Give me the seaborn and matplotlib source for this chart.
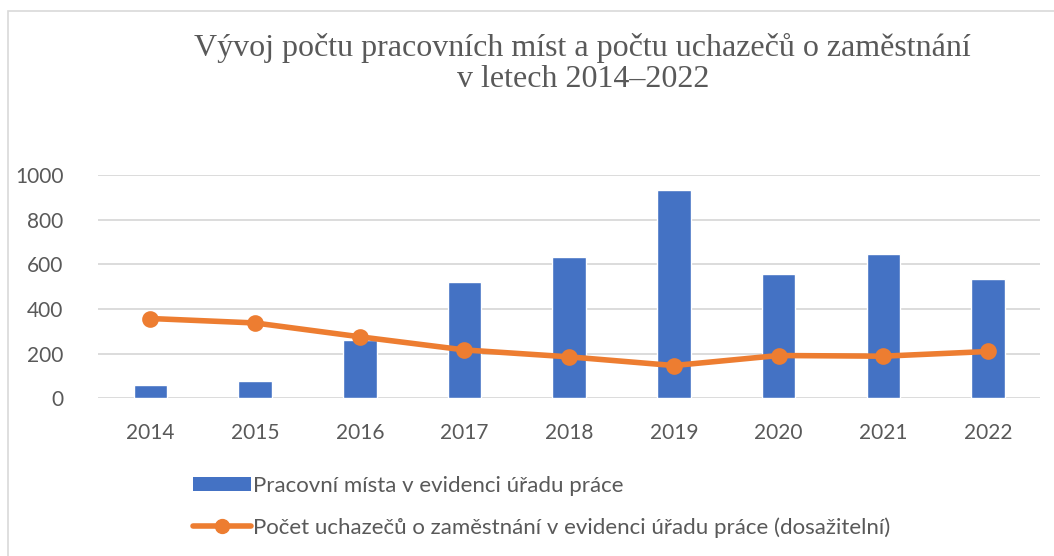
import seaborn as sns
import matplotlib.pyplot as plt
import pandas as pd
from matplotlib.patches import Patch, Rectangle
from matplotlib.lines import Line2D

roky = ['2014', '2015', '2016', '2017', '2018', '2019', '2020', '2021', '2022']
pracovni_mista = [57, 75, 260, 521, 631, 933, 555, 645, 536]
uchazeci = [357, 337, 275, 216, 185, 146, 191, 188, 209]

popis_mista = 'Pracovní místa v evidenci úřadu práce'
popis_uchazeci = 'Počet uchazečů o zaměstnání v evidenci úřadu práce (dosažitelní)'
nadpis = 'Vývoj počtu pracovních míst a počtu uchazečů o zaměstnání\nv letech 2014–2022'

modra = '#4472C4'
oranzova = '#ED7D31'
seda = '#595959'

df = pd.DataFrame({'rok': roky, 'mista': pracovni_mista, 'uchazeci': uchazeci})

sns.set_theme(style="white")
plt.rcParams['font.family'] = ['Lato', 'DejaVu Sans']

fig = plt.figure(figsize=(10.54, 5.56), dpi=100)
ax = fig.add_axes([0.093, 0.284, 0.894, 0.401])

sns.barplot(data=df, x='rok', y='mista', color=modra, width=0.32,
            saturation=1, ax=ax)
sns.pointplot(data=df, x='rok', y='uchazeci', color=oranzova, ax=ax,
              markers='o', markersize=9, linewidth=4)

ax.set_ylim(0, 1000)
ax.set_xlim(-0.5, len(roky) - 0.5)
ax.set_yticks(range(0, 1001, 200))
ax.yaxis.grid(True, color='#D9D9D9', linewidth=1.3)
ax.set_axisbelow(True)
for s in ax.spines.values():
    s.set_visible(False)
ax.set_xlabel('')
ax.set_ylabel('')
ax.tick_params(axis='both', colors=seda, labelsize=15, length=0)
ax.tick_params(axis='x', pad=18)
ax.tick_params(axis='y', pad=25)

fig.text(0.553, 0.886, nadpis, ha='center', va='center', fontsize=23,
         family='Liberation Serif', color=seda, linespacing=1.12)

handles = [Patch(facecolor=modra, edgecolor='none'),
           Line2D([0], [0], color=oranzova, lw=4, marker='o', markersize=10)]
fig.legend(handles, [popis_mista, popis_uchazeci], loc='upper left',
           bbox_to_anchor=(0.175, 0.160), frameon=False, fontsize=16,
           labelcolor=seda, handlelength=2.6, handleheight=0.55,
           handletextpad=0.1, labelspacing=0.95, borderaxespad=0)

fig.patches.append(Rectangle((8 / 1054, -0.1), 1.2, 1.1 - 11 / 556,
                             transform=fig.transFigure, fill=False,
                             edgecolor='#D9D9D9', linewidth=1.2))

fig.savefig('out.png', dpi=100)
